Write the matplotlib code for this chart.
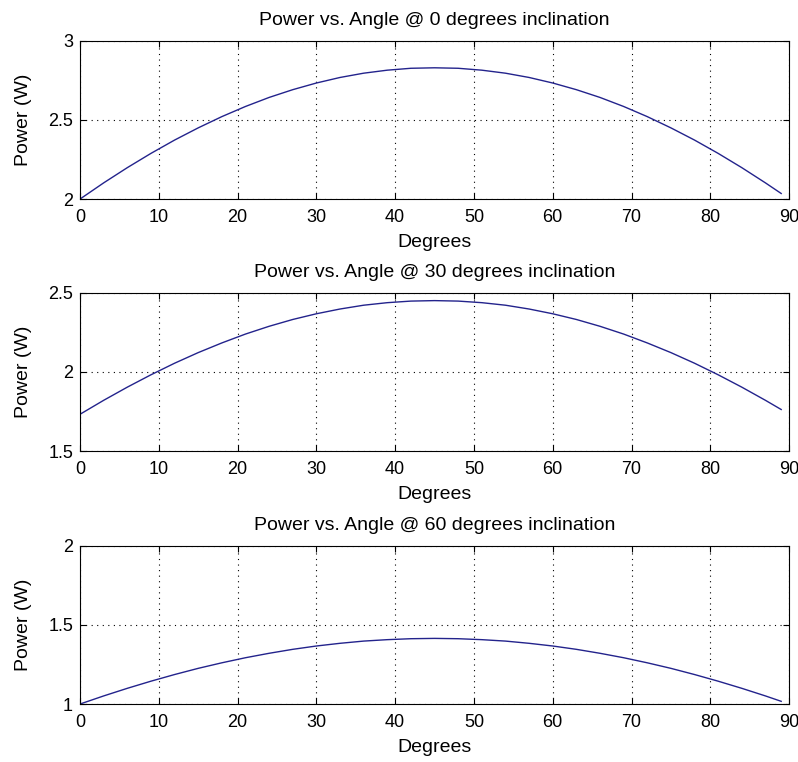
import matplotlib
matplotlib.use("Agg")
import matplotlib.pyplot as plt

plt.rcParams['font.family'] = ['Liberation Sans', 'DejaVu Sans']

# angles (degrees)
degrees = [0, 3, 6, 9, 12, 15, 18, 21, 24, 27, 30, 33, 36, 39, 42, 45,
           48, 51, 54, 57, 60, 63, 66, 69, 72, 75, 78, 81, 84, 87, 89]

# power readings for each inclination (W)
power_0 = [2.000, 2.102, 2.198, 2.288, 2.372, 2.449, 2.520, 2.584, 2.641, 2.690,
           2.732, 2.767, 2.794, 2.813, 2.825, 2.828, 2.825, 2.813, 2.794, 2.767,
           2.732, 2.690, 2.641, 2.584, 2.520, 2.449, 2.372, 2.288, 2.198, 2.102,
           2.035]
power_30 = [1.732, 1.820, 1.903, 1.981, 2.054, 2.121, 2.182, 2.238, 2.287, 2.330,
            2.366, 2.396, 2.420, 2.436, 2.446, 2.449, 2.446, 2.436, 2.420, 2.396,
            2.366, 2.330, 2.287, 2.238, 2.182, 2.121, 2.054, 1.981, 1.903, 1.820,
            1.762]
power_60 = [1.000, 1.051, 1.099, 1.144, 1.186, 1.225, 1.260, 1.292, 1.320, 1.345,
            1.366, 1.383, 1.397, 1.406, 1.412, 1.414, 1.412, 1.406, 1.397, 1.383,
            1.366, 1.345, 1.320, 1.292, 1.260, 1.225, 1.186, 1.144, 1.099, 1.051,
            1.017]

inclinations = [0, 30, 60]
series = [power_0, power_30, power_60]
ylims = [(2, 3), (1.5, 2.5), (1, 2)]
yticks = [[2, 2.5, 3], [1.5, 2, 2.5], [1, 1.5, 2]]
ytick_labels = [["2", "2.5", "3"], ["1.5", "2", "2.5"], ["1", "1.5", "2"]]

fig = plt.figure(figsize=(7.98, 7.62), dpi=100)
bottoms = [0.7388, 0.4081, 0.0761]

for i in range(3):
    ax = fig.add_axes([0.1003, bottoms[i], 0.8885, 0.2080])
    ax.plot(degrees, series[i], color='#23238c', linewidth=1.0)
    ax.set_xlim(0, 90)
    ax.set_ylim(*ylims[i])
    ax.set_xticks(range(0, 91, 10))
    ax.set_yticks(yticks[i])
    ax.set_yticklabels(ytick_labels[i])
    ax.grid(True, color='black', linestyle=(0, (1, 4)), linewidth=0.8)
    ax.tick_params(direction='in', top=True, right=True, length=4,
                   labelsize=13)
    ax.tick_params(axis='x', pad=7)
    ax.tick_params(axis='y', pad=5)
    for s in ax.spines.values():
        s.set_linewidth(0.8)
    ax.set_title(f"Power vs. Angle @ {inclinations[i]} degrees inclination",
                 fontsize=14, pad=11)
    ax.set_xlabel("Degrees", fontsize=14, labelpad=6)
    ax.set_ylabel("Power (W)", fontsize=14, labelpad=12)

fig.savefig("out.png", dpi=100)
